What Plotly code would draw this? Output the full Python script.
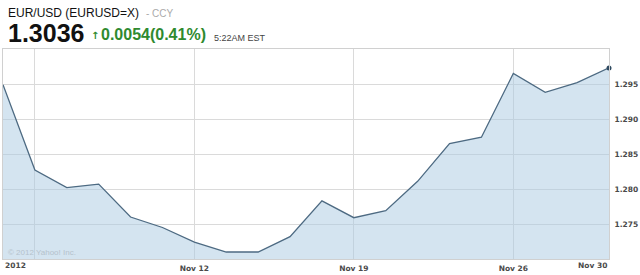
import plotly.graph_objects as go

# trading-day index and EUR/USD closes
idx = list(range(20))
rate = [1.2949, 1.2827, 1.2802, 1.2807, 1.2760, 1.2745, 1.2724, 1.2710, 1.2710, 1.2732,
        1.2783, 1.2759, 1.2769, 1.2811, 1.2865, 1.2874, 1.2965, 1.2938, 1.2952, 1.2973]

x_tickvals = [1, 6, 11, 16]
x_ticktext = ["", "Nov 12", "Nov 19", "Nov 26"]
y_tickvals = [1.275, 1.280, 1.285, 1.290, 1.295]
y_ticktext = ["1.275", "1.280", "1.285", "1.290", "1.295"]

W, H = 640, 275
ML, MR, MT, MB = 2, 31, 49, 12
PW, PH = W - ML - MR, H - MT - MB

def px(x):
    return (x - ML) / PW

def py(y):
    return (H - MB - y) / PH

fig = go.Figure()
fig.add_trace(go.Scatter(
    x=idx, y=rate, mode="lines", fill="tozeroy",
    fillcolor="rgba(170,202,226,0.5)",
    line=dict(color="#4d6a82", width=1.3),
    hoverinfo="skip", showlegend=False))
fig.add_trace(go.Scatter(
    x=[idx[-1]], y=[rate[-1]], mode="markers",
    marker=dict(color="#2f4a60", size=5),
    hoverinfo="skip", showlegend=False, cliponaxis=False))

axis_font = dict(family="DejaVu Sans", size=7.5, color="#4a4a4a")

fig.update_layout(
    width=W, height=H,
    margin=dict(l=ML, r=MR, t=MT, b=MB, pad=0),
    paper_bgcolor="white", plot_bgcolor="white",
    xaxis=dict(range=[0, 19], tickvals=x_tickvals, ticktext=x_ticktext,
               showgrid=True, gridcolor="#dadada", gridwidth=1,
               zeroline=False, showline=True, linecolor="#d0d0d0", mirror=True,
               ticks="", ticklabelstandoff=2,
               tickfont=dict(family="DejaVu Sans", size=7.5, color="#4a4a4a", weight="bold")),
    yaxis=dict(range=[1.270, 1.300], tickvals=y_tickvals, ticktext=y_ticktext,
               side="right", showgrid=True, gridcolor="#dadada", gridwidth=1,
               zeroline=False, showline=True, linecolor="#d0d0d0", mirror=True,
               ticks="", ticklabelstandoff=3,
               tickfont=dict(family="DejaVu Sans", size=7.5, color="#4a4a4a", weight="bold")),
)

ann = []
# header
ann.append(dict(x=px(5), y=py(12), xref="paper", yref="paper", xanchor="left", yanchor="middle",
                text="EUR/USD (EURUSD=X)", showarrow=False,
                font=dict(family="Liberation Sans", size=12, color="#111111")))
ann.append(dict(x=px(143), y=py(13), xref="paper", yref="paper", xanchor="left", yanchor="middle",
                text="- CCY", showarrow=False,
                font=dict(family="Liberation Sans", size=10, color="#aaaaaa")))
ann.append(dict(x=px(5), y=py(33), xref="paper", yref="paper", xanchor="left", yanchor="middle",
                text="<b>1.3036</b>", showarrow=False,
                font=dict(family="Liberation Sans", size=25, color="#111111")))
ann.append(dict(x=px(88), y=py(35), xref="paper", yref="paper", xanchor="left", yanchor="middle",
                text="<b>↑</b>", showarrow=False,
                font=dict(family="DejaVu Sans", size=10, color="#2f8a2f")))
ann.append(dict(x=px(98), y=py(34), xref="paper", yref="paper", xanchor="left", yanchor="middle",
                text="0.0054(0.41%)", showarrow=False,
                font=dict(family="Liberation Sans", size=16, color="#2f8a2f", weight="bold")))
ann.append(dict(x=px(211), y=py(38), xref="paper", yref="paper", xanchor="left", yanchor="middle",
                text="5:22AM EST", showarrow=False,
                font=dict(family="Liberation Sans", size=9, color="#444444")))
# x labels at edges
ann.append(dict(x=0, y=py(270), xref="x", yref="paper", xanchor="left", yanchor="middle",
                text="<b>2012</b>", showarrow=False, font=axis_font))
ann.append(dict(x=19, y=py(270), xref="x", yref="paper", xanchor="right", yanchor="middle",
                text="<b>Nov 30</b>", showarrow=False, font=axis_font))
# copyright
ann.append(dict(x=px(5), y=py(256), xref="paper", yref="paper", xanchor="left", yanchor="middle",
                text="© 2012 Yahoo! Inc.", showarrow=False,
                font=dict(family="Liberation Sans", size=8, color="#b4c2cc")))
fig.update_layout(annotations=ann)

fig.write_html("out.html")
